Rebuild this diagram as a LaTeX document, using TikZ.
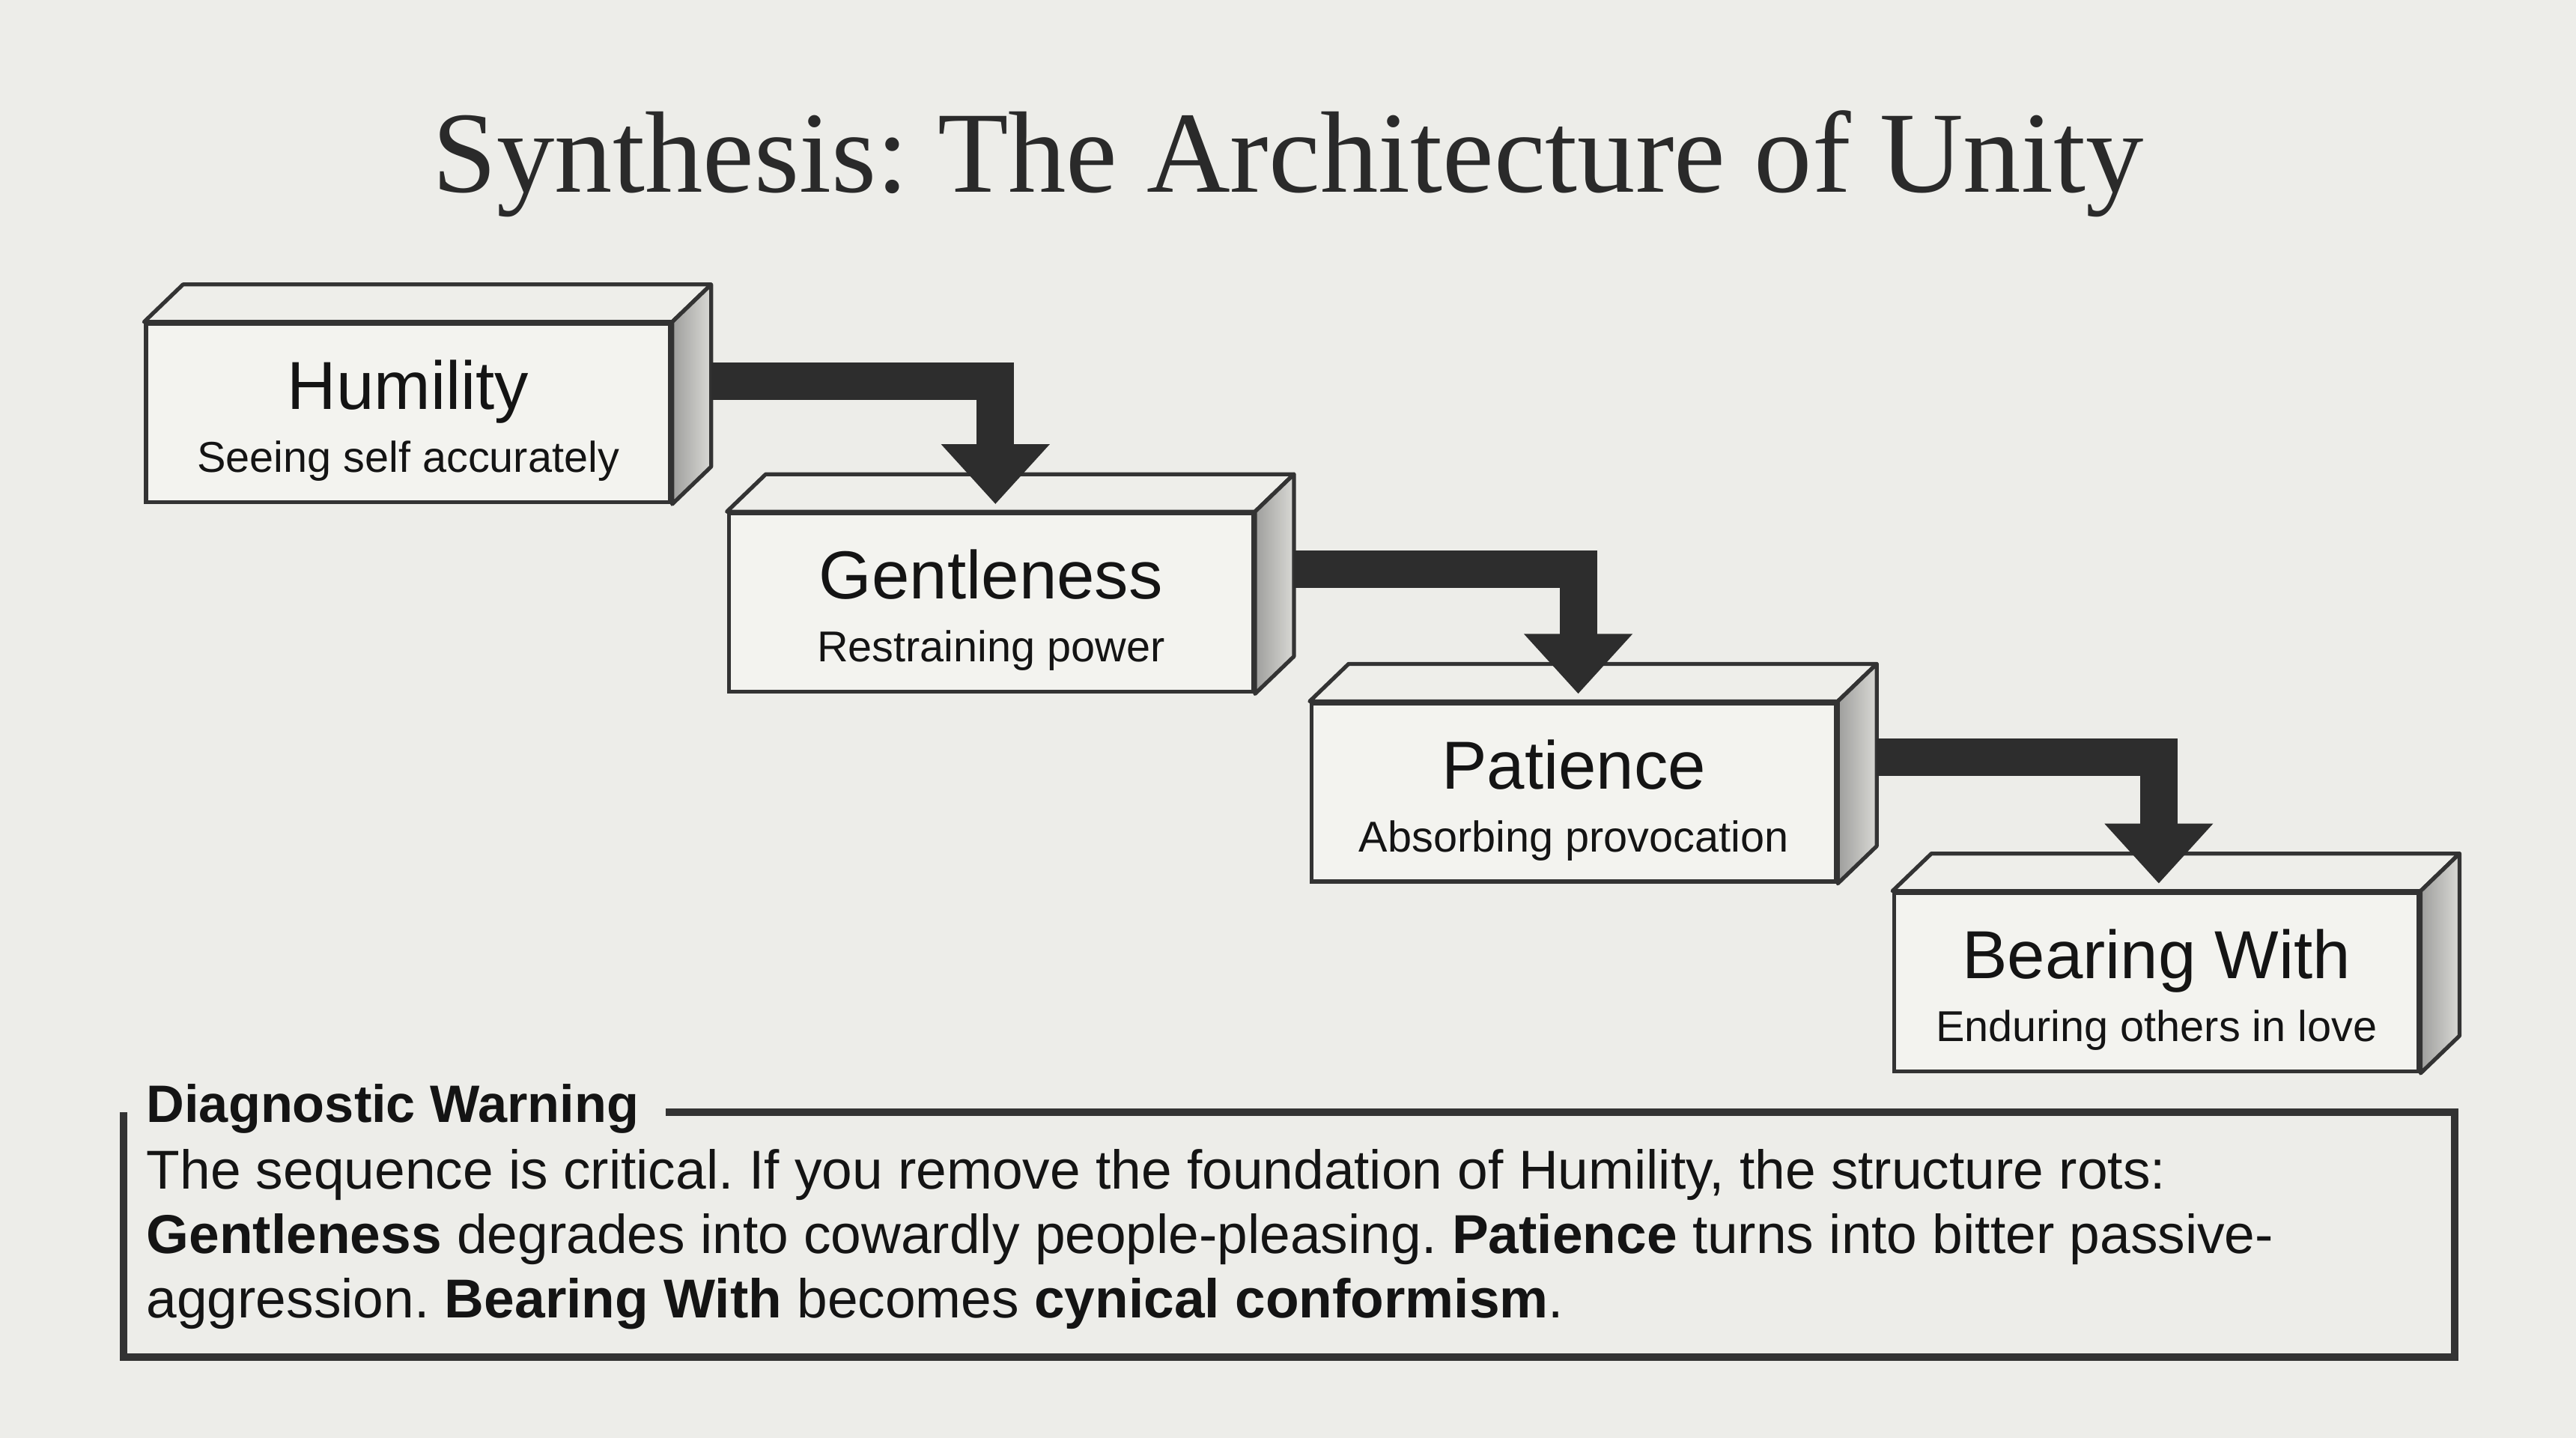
\documentclass[tikz,border=0pt]{standalone}
\usepackage{fontspec}
\setmainfont{Liberation Sans}
\newfontfamily\titlefont{Liberation Serif}
\usetikzlibrary{arrows.meta,positioning,calc}
\definecolor{paper}{HTML}{EDEDE9}
\definecolor{boxfront}{HTML}{F3F3EF}
\definecolor{topfill}{HTML}{EEEEEA}
\definecolor{sidedark}{HTML}{9E9E9C}
\definecolor{sidelight}{HTML}{D9D9D5}
\definecolor{boxline}{HTML}{333333}
\definecolor{arrowfill}{HTML}{2D2D2D}
\definecolor{ink}{HTML}{141414}
\definecolor{titleink}{HTML}{2A2A2A}
\frenchspacing
\tikzset{
  stepbox/.style   ={draw=boxline,line width=1.5pt,fill=boxfront,align=center,minimum width=7cm,
                     minimum height=2.38cm,inner sep=0pt,text=ink,font=\fontsize{25.8}{23.9}\selectfont},
  topface/.style   ={draw=boxline,line width=1.5pt,fill=topfill,line join=round},
  sideface/.style  ={draw=boxline,line width=1.5pt,left color=sidedark,right color=sidelight,line join=round},
  flowarrow/.style ={-{Triangle[length=0.8cm,width=1.4cm]},line width=0.5cm,draw=arrowfill},
  warnframe/.style ={draw=boxline,line width=3pt},
  warnhead/.style  ={anchor=base west,inner sep=0pt,text=ink,font=\bfseries\fontsize{20}{20}\selectfont},
  warnbody/.style  ={anchor=north west,inner sep=0pt,align=left,text=ink,font=\fontsize{20.8}{24.5}\selectfont}
}
\newcommand{\stepsub}[1]{{\fontsize{16.4}{23.9}\selectfont #1}}
\newcommand{\steptop}{\rule{0pt}{0.86cm}}

\begin{document}
\begin{tikzpicture}[node distance=0.1cm and 0.73cm]
    \fill[paper] (0,0) rectangle (34.4,-19.2);
    \useasboundingbox (0,0) rectangle (34.4,-19.2);
    \node[anchor=base,text=titleink,font=\titlefont\fontsize{44}{44}\selectfont] (title) at (17.2,-2.57)
      {Synthesis: The Architecture of Unity};
    % the four steps
    \node[stepbox] (humility) at (5.45,-5.515) {\steptop Humility\\\stepsub{Seeing self accurately}};
    \node[stepbox,below right=of humility]   (gentleness) {\steptop Gentleness\\\stepsub{Restraining power}};
    \node[stepbox,below right=of gentleness] (patience)   {\steptop Patience\\\stepsub{Absorbing provocation}};
    \node[stepbox,below right=of patience]   (bearing)    {\steptop Bearing With\\\stepsub{Enduring others in love}};
    \foreach \b in {humility,gentleness,patience,bearing}{
      \draw[topface]  (\b.north west) -- ++(0.52,0.5) -- ($(\b.north east)+(0.52,0.5)$) -- (\b.north east) -- cycle;
      \draw[sideface] (\b.north east) -- ++(0.52,0.5) -- ($(\b.south east)+(0.52,0.5)$) -- (\b.south east) -- cycle;
    }
    \draw[flowarrow] ($(humility.east)+(0.52,0.42)$)   -| ($(gentleness.north)+(0.06,0.1)$);
    \draw[flowarrow] ($(gentleness.east)+(0.52,0.45)$) -| ($(patience.north)+(0.06,0.1)$);
    \draw[flowarrow] ($(patience.east)+(0.52,0.47)$)   -| ($(bearing.north)+(0.03,0.1)$);
    % warning
    \node[warnhead] (warnlabel) at (1.95,-14.98) {Diagnostic Warning};
    \node[warnbody] (warntext) at (1.95,-15.34)
      {The sequence is critical. If you remove the foundation of Humility, the structure rots:\\
       \textbf{Gentleness} degrades into cowardly people-pleasing. \textbf{Patience} turns into bitter passive-\\
       aggression. \textbf{Bearing With} becomes \textbf{cynical conformism}.};
    \draw[warnframe] (8.89,-14.85) -- (32.78,-14.85) -- (32.78,-18.12) -- (1.65,-18.12) -- (1.65,-14.85);
\end{tikzpicture}
\end{document}
